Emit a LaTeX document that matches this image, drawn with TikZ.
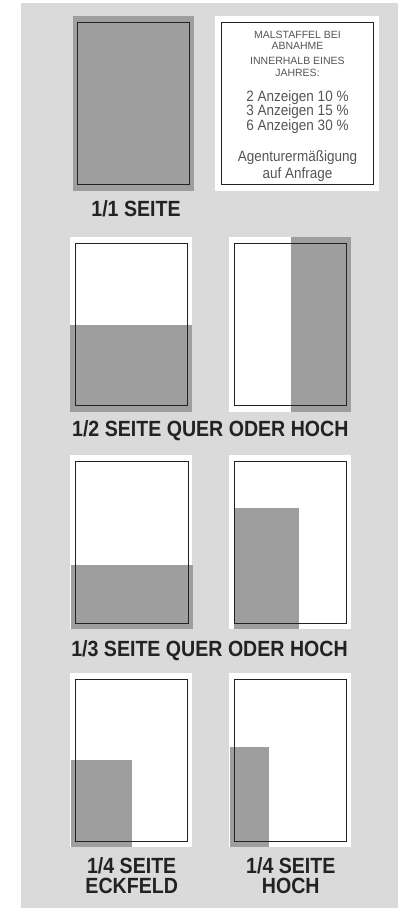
\documentclass[tikz,border=0pt]{standalone}
\usepackage{fontspec}
\setmainfont{Liberation Sans}
\usepackage{graphicx}
\definecolor{bggray}{HTML}{DADADA}
\definecolor{adgray}{HTML}{9E9E9E}
\definecolor{trimline}{HTML}{222222}
\definecolor{boxtext}{HTML}{555555}
\definecolor{labeltext}{HTML}{222222}
\tikzset{
  paper/.style={fill=white},
  adarea/.style={fill=adgray},
  trim/.style={draw=trimline, line width=0.9pt},
  sizelabel/.style={text=labeltext, inner sep=0pt, font=\fontsize{22}{20}\selectfont\bfseries},
  smallline/.style={text=boxtext, inner sep=0pt, anchor=base, font=\fontsize{10.5}{12}\selectfont},
  bigline/.style={text=boxtext, inner sep=0pt, anchor=base, font=\fontsize{15}{17}\selectfont},
}
\newcommand{\lbl}[1]{\scalebox{0.89}[1]{#1}}
\newcommand{\bgln}[1]{\scalebox{0.9}[1]{#1}}
\begin{document}
\begin{tikzpicture}[x=1pt,y=-1pt]
\useasboundingbox (0,0) rectangle (398,908);
\fill[white] (0,0) rectangle (398,908);
\fill[bggray] (21,3) rectangle (398,908);

% --- Row 1: 1/1 Seite
\fill[adarea] (73.3,16) rectangle (194,190.7);
\draw[trim] (77.3,22.7) rectangle (189.3,184.3);
\node[sizelabel, anchor=base] (l11) at (136,216) {\lbl{1/1 SEITE}};

% Info box
\fill[paper] (215,15.7) rectangle (379,190.7);
\draw[trim] (221.7,22) rectangle (373.3,184.3);
\node[smallline] (t1) at (297.5,38) {MALSTAFFEL BEI};
\node[smallline] (t2) at (297.5,49.5) {ABNAHME};
\node[smallline] (t3) at (297.5,64.3) {INNERHALB EINES};
\node[smallline] (t4) at (297.5,76.7) {JAHRES:};
\node[bigline] (t5) at (297.5,101) {\bgln{2 Anzeigen 10 \%}};
\node[bigline] (t6) at (297.5,115.7) {\bgln{3 Anzeigen 15 \%}};
\node[bigline] (t7) at (297.5,130.7) {\bgln{6 Anzeigen 30 \%}};
\node[bigline] (t8) at (297.5,161) {\bgln{Agenturermäßigung}};
\node[bigline] (t9) at (297.5,178.3) {\bgln{auf Anfrage}};

% --- Row 2: 1/2 Seite
\fill[paper] (70,236.7) rectangle (192,411.7);
\fill[adarea] (70,325) rectangle (192,411.7);
\draw[trim] (75.3,243.3) rectangle (187.7,405);
\fill[paper] (229.3,236.7) rectangle (350.7,411.7);
\fill[adarea] (291,236.7) rectangle (350.7,411.7);
\draw[trim] (234.3,243.3) rectangle (346.7,405);
\node[sizelabel, anchor=base] (l12) at (210.3,436.7) {\lbl{1/2 SEITE QUER ODER HOCH}};

% --- Row 3: 1/3 Seite
\fill[paper] (70,455) rectangle (192,629.3);
\fill[adarea] (71,565) rectangle (192.7,629.3);
\draw[trim] (75.3,461) rectangle (188,623.3);
\fill[paper] (229.3,455) rectangle (350.7,629.3);
\fill[adarea] (234.3,508) rectangle (299,629.3);
\draw[trim] (234.3,461) rectangle (346.7,623.3);
\node[sizelabel, anchor=base] (l13) at (209.5,656) {\lbl{1/3 SEITE QUER ODER HOCH}};

% --- Row 4: 1/4 Seite
\fill[paper] (70,672.7) rectangle (192,847.3);
\fill[adarea] (71,760) rectangle (132,847.3);
\draw[trim] (75.3,679.3) rectangle (187.7,841);
\fill[paper] (229.3,672.7) rectangle (350.7,847.3);
\fill[adarea] (230,747) rectangle (269,847.3);
\draw[trim] (234.3,679.3) rectangle (346.7,841);
\node[sizelabel, anchor=base] (l14a) at (131.7,873.3) {\lbl{1/4 SEITE}};
\node[sizelabel, anchor=base] (l14b) at (131.7,893.3) {\lbl{ECKFELD}};
\node[sizelabel, anchor=base] (l14c) at (290.8,873.3) {\lbl{1/4 SEITE}};
\node[sizelabel, anchor=base] (l14d) at (290.8,893.3) {\lbl{HOCH}};
\end{tikzpicture}
\end{document}
